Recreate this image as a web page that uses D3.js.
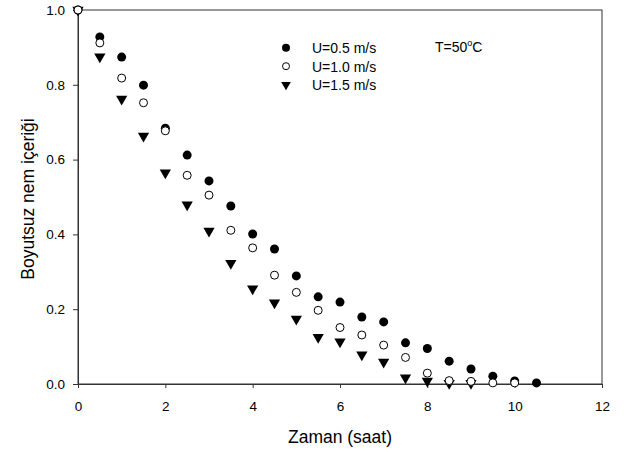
<!DOCTYPE html>
<html>
<head>
<meta charset="utf-8">
<script src="https://cdn.jsdelivr.net/npm/d3@7"></script>
<style>
  body { margin: 0; background: #fff; }
  text { font-family: "Liberation Sans", Arial, sans-serif; }
</style>
</head>
<body>
<svg id="chart" width="624" height="452"></svg>
<script>
const times = [0, 0.5, 1, 1.5, 2, 2.5, 3, 3.5, 4, 4.5, 5, 5.5, 6, 6.5, 7, 7.5, 8, 8.5, 9, 9.5, 10, 10.5];
const u05 = [1.0, 0.928, 0.874, 0.799, 0.684, 0.612, 0.543, 0.476, 0.401, 0.361, 0.289, 0.233, 0.219, 0.179, 0.166, 0.110, 0.095, 0.061, 0.040, 0.021, 0.008, 0.003];
const u10 = [1.0, 0.912, 0.818, 0.752, 0.677, 0.558, 0.505, 0.411, 0.364, 0.291, 0.245, 0.197, 0.151, 0.131, 0.104, 0.071, 0.029, 0.009, 0.007, 0.003, 0.003];
const u15 = [1.0, 0.875, 0.762, 0.663, 0.565, 0.479, 0.409, 0.323, 0.255, 0.217, 0.174, 0.125, 0.113, 0.078, 0.059, 0.017, 0.008, 0.002, 0.002];
const seriesNames = ["U=0.5 m/s", "U=1.0 m/s", "U=1.5 m/s"];
const xTicks = [0, 2, 4, 6, 8, 10, 12];
const yTicks = [0, 0.2, 0.4, 0.6, 0.8, 1.0];

const svg = d3.select("#chart");
const margin = { top: 10, right: 22, bottom: 68, left: 78 };
const width = 624 - margin.left - margin.right;
const height = 452 - margin.top - margin.bottom;

const x = d3.scaleLinear().domain([0, 12]).range([0, width]);
const y = d3.scaleLinear().domain([0, 1]).range([height, 0]);

const g = svg.append("g").attr("transform", `translate(${margin.left},${margin.top})`);

// frame
g.append("rect")
  .attr("x", 0).attr("y", 0)
  .attr("width", width).attr("height", height)
  .attr("fill", "none").attr("stroke", "#333").attr("stroke-width", 1);

const xAxis = g.append("g")
  .attr("transform", `translate(0,${height})`)
  .call(d3.axisBottom(x).tickValues(xTicks).tickSize(4).tickPadding(13).tickFormat(d3.format("d")));
const yAxis = g.append("g")
  .call(d3.axisLeft(y).tickValues(yTicks).tickSize(5).tickPadding(8).tickFormat(d3.format(".1f")));

[xAxis, yAxis].forEach(a => {
  a.select(".domain").attr("stroke", "#333");
  a.selectAll(".tick line").attr("stroke", "#333");
  a.selectAll("text").attr("font-size", 13.5).attr("fill", "#000")
    .style("font-family", "'Liberation Sans', Arial, sans-serif");
});

const tri = d3.symbol().type(d3.symbolTriangle).size(55);
const triSmall = d3.symbol().type(d3.symbolTriangle).size(40);

const series = [
  { name: seriesNames[0], vals: u05, kind: "filled" },
  { name: seriesNames[1], vals: u10, kind: "open" },
  { name: seriesNames[2], vals: u15, kind: "tri" }
];

function drawMarker(sel, kind, small) {
  if (kind === "filled") {
    sel.append("circle").attr("r", small ? 4 : 4.5).attr("fill", "#000");
  } else if (kind === "open") {
    sel.append("circle").attr("r", small ? 3.5 : 4).attr("fill", "#fff").attr("stroke", "#000").attr("stroke-width", 1);
  } else {
    sel.append("path").attr("d", small ? triSmall() : tri()).attr("transform", "rotate(180)").attr("fill", "#000");
  }
}

// draw in order: triangles, filled, open on top
[series[2], series[0], series[1]].forEach(s => {
  const pts = s.vals.map((v, i) => ({ t: times[i], v: v }));
  g.append("g").selectAll("g")
    .data(pts)
    .enter()
    .append("g")
    .attr("transform", d => `translate(${x(d.t)},${y(d.v)})`)
    .each(function () { drawMarker(d3.select(this), s.kind, false); });
});

// legend
const legend = g.append("g").attr("transform", "translate(208,37.7)");
series.forEach((s, i) => {
  const row = legend.append("g").attr("transform", `translate(0,${i * 18.5})`);
  drawMarker(row.append("g"), s.kind, true);
  row.append("text").attr("x", 26).attr("y", 5.5).attr("font-size", 14).text(s.name);
});

const tLabel = g.append("text").attr("x", 357).attr("y", 41.7).attr("font-size", 14);
tLabel.append("tspan").text("T=50");
tLabel.append("tspan").attr("dy", -6).attr("font-size", 9).text("o");
tLabel.append("tspan").attr("dy", 6).text("C");

// axis titles
svg.append("text")
  .attr("x", margin.left + width / 2).attr("y", 443)
  .attr("text-anchor", "middle").attr("font-size", 17.5)
  .text("Zaman (saat)");
svg.append("text")
  .attr("transform", `translate(34,199) rotate(-90)`)
  .attr("text-anchor", "middle").attr("font-size", 17.5)
  .text("Boyutsuz nem içeriği");
</script>
</body>
</html>
